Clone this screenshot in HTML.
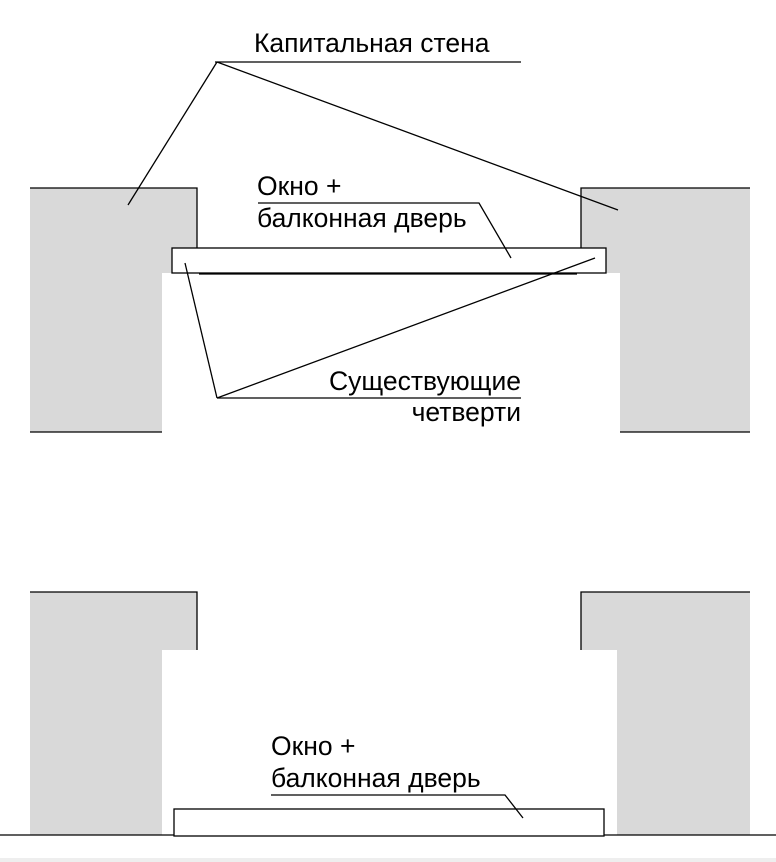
<!DOCTYPE html>
<html><head><meta charset="utf-8"><style>
html,body{margin:0;padding:0;background:#fff;}
svg{display:block;}
text{font-family:"Liberation Sans",sans-serif;font-size:26.5px;fill:#000;}
</style></head><body>
<svg width="776" height="862" viewBox="0 0 776 862" xmlns="http://www.w3.org/2000/svg">
<!-- TOP -->
<path d="M30,188 H197 V273 H162 V432 H30 Z" fill="#d9d9d9"/>
<path d="M581,188 H750 V432 H620 V273 H581 Z" fill="#d9d9d9"/>
<g stroke="#000" stroke-width="1.3" fill="none">
<path d="M30,188 H197 V248"/>
<path d="M750,188 H581 V248"/>
<line x1="30" y1="432" x2="162" y2="432"/>
<line x1="620" y1="432" x2="750" y2="432"/>
<rect x="172" y="248" width="434" height="25" fill="#fff"/>
<line x1="199" y1="274" x2="577" y2="274"/>
<line x1="215" y1="62" x2="521" y2="62"/>
<line x1="217" y1="62" x2="128" y2="205"/>
<line x1="217" y1="62" x2="618" y2="210"/>
<polyline points="258,203 479,203 511,258"/>
<line x1="217" y1="398" x2="521" y2="398"/>
<line x1="217" y1="398" x2="185" y2="263"/>
<line x1="217" y1="398" x2="595" y2="258"/>
</g>
<text x="254" y="52">Капитальная стена</text>
<text x="257" y="195">Окно +</text>
<text x="257" y="227">балконная дверь</text>
<text x="521" y="390" text-anchor="end">Существующие</text>
<text x="521" y="421" text-anchor="end">четверти</text>

<!-- BOTTOM -->
<path d="M30,592 H197 V650 H162 V835 H30 Z" fill="#d9d9d9"/>
<path d="M581,592 H750 V835 H617 V650 H581 Z" fill="#d9d9d9"/>
<g stroke="#000" stroke-width="1.3" fill="none">
<path d="M30,592 H197 V650"/>
<path d="M750,592 H581 V650"/>
<line x1="0" y1="835" x2="776" y2="835"/>
<rect x="174" y="809" width="430" height="27" fill="#fff"/>
<polyline points="271,795 505,795 523,818"/>
</g>
<text x="271" y="755">Окно +</text>
<text x="271" y="787">балконная дверь</text>
<rect x="0" y="858" width="776" height="4" fill="#eeeeee"/>
</svg>
</body></html>
